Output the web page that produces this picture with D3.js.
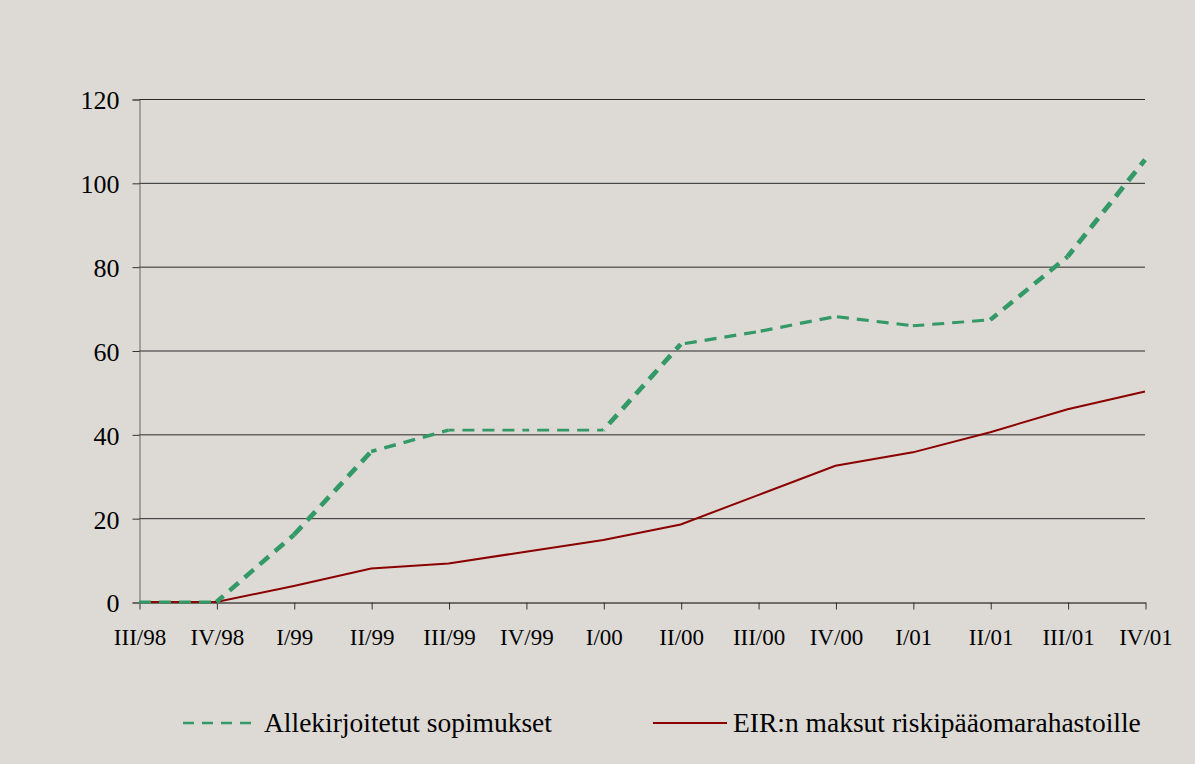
<!DOCTYPE html>
<html>
<head>
<meta charset="utf-8">
<script src="https://cdn.jsdelivr.net/npm/d3@7"></script>
<style>
  html, body { margin: 0; padding: 0; background: #dddad5; }
  svg text { font-family: "Liberation Serif", "DejaVu Serif", "Times New Roman", serif !important; fill: #000; }
</style>
</head>
<body>
<div id="chart"></div>
<script>
const quarters = ["III/98", "IV/98", "I/99", "II/99", "III/99", "IV/99", "I/00",
  "II/00", "III/00", "IV/00", "I/01", "II/01", "III/01", "IV/01"];
const signedContracts = [0, 0, 16, 35.9, 41, 41, 41, 61.5, 64.5, 68.1, 65.9, 67.3, 82.4, 105.5];
const eirPayments = [0, 0, 3.8, 8.0, 9.2, 12.0, 14.8, 18.5, 25.5, 32.5, 35.7, 40.5, 46.0, 50.2];
const yTicks = [0, 20, 40, 60, 80, 100, 120];
const seriesNames = ["Allekirjoitetut sopimukset", "EIR:n maksut riskipääomarahastoille"];

const width = 1195;
const height = 764;

const margin = {
  top: 99,
  right: 50,
  bottom: 162,
  left: 139
};

const green = "#339966";
const red = "#8b0000";
const serif = "'Liberation Serif', 'DejaVu Serif', serif";

const svg = d3.select("#chart")
  .append("svg")
  .attr("width", width)
  .attr("height", height)
  .attr("font-family", serif);

svg.append("rect")
  .attr("x", 0)
  .attr("y", 0)
  .attr("width", width)
  .attr("height", height)
  .attr("fill", "#dddad5");

const xScale = d3.scalePoint()
  .domain(quarters)
  .range([margin.left, width - margin.right]);

const yScale = d3.scaleLinear()
  .domain([0, 120])
  .range([height - margin.bottom, margin.top]);

// Gridlines
svg.selectAll(".grid")
  .data(yTicks.filter(d => d > 0))
  .enter()
  .append("line")
  .attr("x1", margin.left)
  .attr("x2", width - margin.right)
  .attr("y1", d => yScale(d) + 0.5)
  .attr("y2", d => yScale(d) + 0.5)
  .attr("stroke", "#2a2a2a")
  .attr("stroke-width", 1);

// Y axis
const yAxis = svg.append("g")
  .attr("transform", `translate(${margin.left + 0.5}, 0.5)`)
  .call(d3.axisLeft(yScale).tickValues(yTicks).tickSize(7).tickPadding(13));
yAxis.attr("font-family", serif);
yAxis.select(".domain").attr("stroke", "#666");
yAxis.selectAll(".tick line").attr("stroke", "#333");
yAxis.selectAll("text")
  .style("font-family", serif)
  .style("font-size", "26px")
  .attr("dy", "0.36em");

// X axis
const xAxis = svg.append("g")
  .attr("transform", `translate(0.5, ${height - margin.bottom + 0.5})`)
  .call(d3.axisBottom(xScale).tickSize(7).tickPadding(19).tickSizeOuter(0));
xAxis.attr("font-family", serif);
xAxis.select(".domain").attr("stroke", "#000");
xAxis.selectAll(".tick line").attr("stroke", "#333");
xAxis.selectAll("text")
  .style("font-family", serif)
  .style("font-size", "23px");

const line = d3.line()
  .x(d => xScale(d.q))
  .y(d => yScale(d.v));

const eirData = quarters.map((q, i) => ({ q: q, v: eirPayments[i] }));
const signedData = quarters.map((q, i) => ({ q: q, v: signedContracts[i] }));

// EIR line
svg.append("path")
  .datum(eirData)
  .attr("fill", "none")
  .attr("stroke", red)
  .attr("stroke-width", 2)
  .attr("d", line);

// Signed contracts line, drawn piece by piece so steep parts look heavier like the original
let dashOffset = 0;
for (let i = 0; i < signedData.length - 1; i++) {
  const a = signedData[i];
  const b = signedData[i + 1];
  const dx = xScale(b.q) - xScale(a.q);
  const dy = yScale(b.v) - yScale(a.v);
  const len = Math.sqrt(dx * dx + dy * dy);
  const steep = Math.abs(dy) / len;
  svg.append("path")
    .datum([a, b])
    .attr("fill", "none")
    .attr("stroke", green)
    .attr("stroke-width", 2.8 + 2.6 * steep)
    .attr("stroke-dasharray", "12,8")
    .attr("stroke-dashoffset", -dashOffset)
    .attr("d", line);
  dashOffset += len;
}

// Legend
const legendY = 723;

svg.append("line")
  .attr("x1", 183)
  .attr("x2", 257)
  .attr("y1", legendY)
  .attr("y2", legendY)
  .attr("stroke", green)
  .attr("stroke-width", 2.5)
  .attr("stroke-dasharray", "11,8");

svg.append("text")
  .attr("x", 264)
  .attr("y", legendY + 9)
  .style("font-family", serif)
  .style("font-size", "27.5px")
  .text(seriesNames[0]);

svg.append("line")
  .attr("x1", 653)
  .attr("x2", 727)
  .attr("y1", legendY)
  .attr("y2", legendY)
  .attr("stroke", red)
  .attr("stroke-width", 2);

svg.append("text")
  .attr("x", 733)
  .attr("y", legendY + 9)
  .style("font-family", serif)
  .style("font-size", "27.5px")
  .text(seriesNames[1]);
</script>
</body>
</html>
